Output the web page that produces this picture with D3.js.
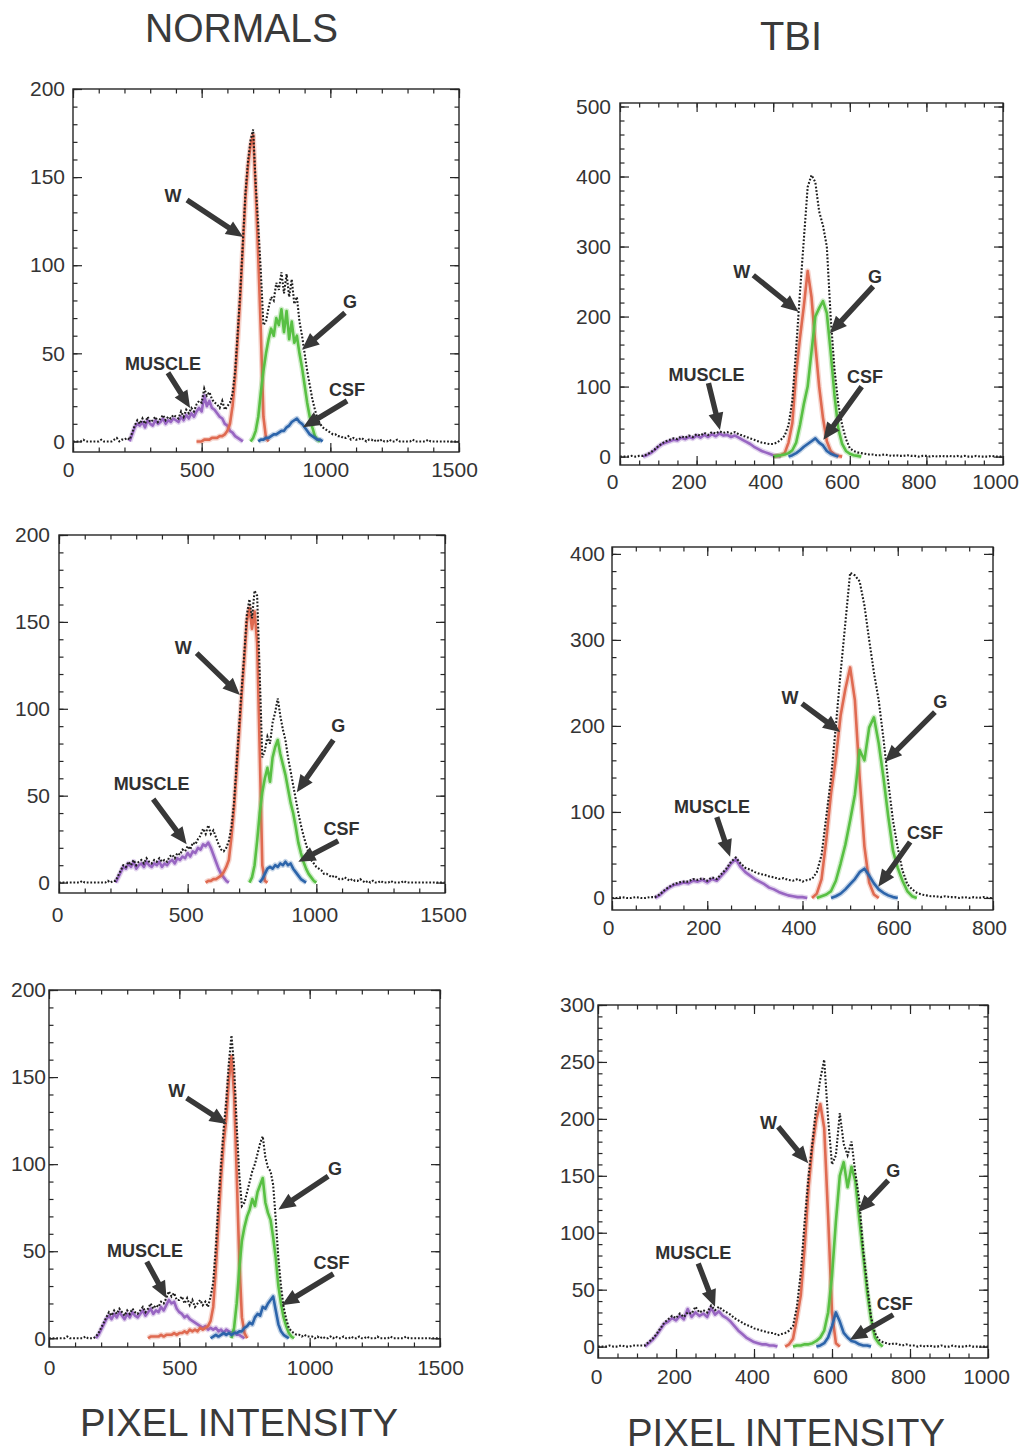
<!DOCTYPE html>
<html>
<head>
<meta charset="utf-8">
<script src="https://cdn.jsdelivr.net/npm/d3@7/dist/d3.min.js"></script>
<style>
html,body{margin:0;padding:0;background:#fff;}
svg{display:block;}
</style>
</head>
<body>
<svg id="chart" width="1029" height="1456"></svg>
<script>
// ---------------- text / tick labels ----------------
const columnTitles = ["NORMALS", "TBI"];
const xAxisTitle = "PIXEL INTENSITY";
const normalsXTicks = [0, 500, 1000, 1500];
const normalsYTicks = [0, 50, 100, 150, 200];
const tbi1XTicks = [0, 200, 400, 600, 800, 1000];
const tbi1YTicks = [0, 100, 200, 300, 400, 500];
const tbi2XTicks = [0, 200, 400, 600, 800];
const tbi2YTicks = [0, 100, 200, 300, 400];
const tbi3XTicks = [0, 200, 400, 600, 800, 1000];
const tbi3YTicks = [0, 50, 100, 150, 200, 250, 300];

// ---------------- histogram data (x0 = first pixel intensity, step = bin, v = counts) ----------------
// NORMALS, top
const n1Total = {x0:0, step:10, v:[
 0,0,0,0,1,0,0,0,0,0, 0,1,0,0,0,0,1,2,0,1, 1,2,1,5,9,12,10,13,10,14,
 11,12,14,11,13,15,12,14,13,15, 14,13,17,14,18,16,19,17,21,23, 22,30,26,28,24,22,21,19,23,18,
 20,22,27,40,62,85,113,141,159,171, 177,146,122,96,66,68,76,82,80,90, 86,96,84,95,82,92,78,82,68,60,
 50,40,32,24,18,13,10,8,7,6, 5,4,4,3,3,2,2,3,1,2, 1,1,2,1,0,1,1,0,1,0,
 1,0,0,1,0,0,1,0,0,0, 0,0,1,0,0,0,0,0,1,0, 0,0,0,0,0,0,0,0,0,0,0]};
const n1W = {x0:480, step:10, v:[0,0,0,1,1,1,2,2,2,3,3,4,6,10,20,36,58,82,110,138,156,168,174,142,104,62,14,2,0]};
const n1G = {x0:690, step:10, v:[0,2,6,14,28,40,50,58,64,60,70,66,75,62,74,58,68,56,60,50,42,32,22,14,8,3,1,0]};
const n1Csf = {x0:720, step:10, v:[0,1,1,2,2,3,4,4,5,6,6,8,9,11,12,13,11,10,8,6,4,3,2,1,1,0]};
const n1Muscle = {x0:220, step:10, v:[0,4,8,10,9,11,8,12,10,9,12,10,11,13,10,12,11,13,12,11,14,12,15,13,16,14,17,19,17,26,20,23,19,18,16,14,13,10,9,6,5,3,2,1,0]};

// NORMALS, middle
const n2Total = {x0:0, step:10, v:[
 0,0,0,0,0,0,0,0,0,1, 0,0,0,0,0,0,0,0,0,1, 0,1,1,4,7,10,9,12,10,13,
 10,12,13,11,14,12,11,13,12,14, 12,13,12,15,16,14,17,16,19,18, 21,19,23,22,25,27,31,28,33,28,
 30,26,22,19,18,20,24,32,46,68, 90,112,132,154,163,152,168,165,120,72, 76,84,80,92,98,106,96,88,82,72,
 64,56,48,40,33,27,22,17,13,11, 9,8,7,5,5,4,3,4,3,2, 2,3,2,1,2,1,1,2,1,0,
 1,0,1,0,0,1,0,0,0,1, 0,0,0,0,1,0,0,0,0,0, 0,0,0,0,0,0,0,0,0,0,0]};
const n2W = {x0:570, step:10, v:[0,1,1,2,2,3,4,6,9,13,26,42,64,86,108,128,150,158,146,156,138,76,10,1,0]};
const n2G = {x0:740, step:10, v:[0,3,10,24,40,52,60,66,58,72,78,82,74,68,62,54,46,40,32,23,17,12,8,5,3,1,0]};
const n2Csf = {x0:780, step:10, v:[0,2,5,8,9,8,10,9,11,10,12,10,11,8,6,4,2,1,0]};
const n2Muscle = {x0:220, step:10, v:[0,3,6,9,8,11,9,12,8,10,11,9,12,10,9,11,10,12,9,11,10,12,13,11,14,13,15,14,17,15,18,17,20,19,22,21,23,20,16,12,8,5,3,1,0]};

// NORMALS, bottom
const n3Total = {x0:0, step:10, v:[
 0,0,0,0,0,0,0,1,0,0, 0,0,0,0,1,0,0,0,1,3, 6,9,12,15,13,16,14,17,15,13,
 16,14,17,15,14,16,18,15,17,20, 17,19,18,21,20,23,27,24,26,22, 22,24,20,23,19,22,18,20,22,19,
 21,18,24,32,52,78,100,120,136,158, 174,156,122,94,76,78,84,90,96,100, 106,112,116,104,98,96,88,68,46,30,
 18,11,6,4,3,2,2,1,2,1, 1,1,0,1,0,1,0,0,1,0, 1,0,0,1,0,0,1,0,0,1,
 0,0,1,0,0,0,1,0,0,0, 0,1,0,0,0,0,0,1,0,0, 0,0,0,0,0,0,0,0,0,0,0]};
const n3W = {x0:380, step:10, v:[0,1,1,1,1,2,1,2,2,2,3,2,3,3,4,3,5,4,5,4,6,5,6,7,10,18,40,66,92,112,126,148,162,140,95,45,12,3,0]};
const n3G = {x0:700, step:10, v:[0,6,20,40,56,64,70,74,80,76,84,88,92,78,72,68,58,46,30,20,12,7,3,1,0]};
const n3Csf = {x0:620, step:10, v:[0,1,2,1,2,3,2,3,2,3,3,4,4,6,7,9,8,12,14,13,18,17,20,22,24,16,8,4,2,1,0]};
const n3Muscle = {x0:180, step:10, v:[0,2,5,8,11,13,11,14,12,15,13,11,14,12,15,13,12,14,16,13,15,17,14,16,15,18,16,19,22,20,21,17,15,14,12,13,11,10,9,8,7,6,7,5,6,5,6,4,5,3,5,4,3,4,2,2,1,0]};

// TBI, top
const t1Total = {x0:0, step:10, v:[
 0,0,0,1,0,1,1,3,6,10, 15,19,22,24,26,25,29,27,30,28, 32,30,34,31,35,33,36,34,35,33,
 35,32,30,28,26,24,22,20,19,18, 18,20,24,30,45,80,155,235,310,385, 402,392,350,330,300,200,125,75,45,25,
 12,8,6,5,4,3,3,2,2,3, 2,1,2,1,1,2,1,1,0,1, 1,0,1,0,1,0,1,0,1,0, 1,0,0,1,0,0,0,1,0,0,0]};
const t1W = {x0:400, step:10, v:[0,1,2,5,20,48,120,170,215,265,228,160,100,55,22,8,3,1,0]};
const t1G = {x0:400, step:10, v:[0,1,2,3,5,9,20,45,75,100,150,200,212,222,205,150,88,40,18,8,4,2,1,0]};
const t1Csf = {x0:440, step:10, v:[0,2,5,9,14,18,22,26,20,16,8,4,2,0]};
const t1Muscle = {x0:60, step:10, v:[0,2,5,9,14,18,20,22,24,23,27,25,28,26,30,27,31,28,32,29,33,30,31,28,30,27,24,21,18,14,11,8,6,4,2,1,0]};

// TBI, middle
const t2Total = {x0:0, step:10, v:[
 0,0,1,0,0,1,0,0,1,1, 4,9,13,16,18,19,19,22,21,23, 20,24,22,28,34,42,47,40,35,33,
 30,28,27,25,24,22,23,21,20,22, 19,21,22,30,50,95,140,200,262,320, 378,375,368,340,300,262,230,185,135,90,
 58,32,16,10,6,4,3,2,2,1, 2,1,1,0,1,0,1,0,1,0,0]};
const t2W = {x0:420, step:10, v:[0,5,22,68,122,162,212,243,268,230,140,60,18,4,0]};
const t2G = {x0:430, step:10, v:[0,2,4,8,20,40,62,90,120,172,160,198,210,180,140,95,55,35,20,8,2,0]};
const t2Csf = {x0:460, step:10, v:[0,2,5,10,16,22,30,34,26,17,10,6,3,1,0]};
const t2Muscle = {x0:90, step:10, v:[0,3,8,12,15,16,18,17,20,19,21,18,22,20,26,32,40,45,36,30,26,22,19,16,12,10,7,5,3,2,1,1,0]};

// TBI, bottom
const t3Total = {x0:0, step:10, v:[
 0,0,0,1,0,0,1,0,0,1, 1,1,1,4,7,11,16,21,24,27, 25,29,26,30,29,35,30,32,30,36,
 32,35,32,30,28,25,23,21,19,18, 16,15,14,13,12,12,10,11,12,14, 18,35,65,110,150,180,212,235,252,200,
 160,168,205,178,168,180,152,128,85,55, 26,12,6,4,3,2,3,2,1,2, 1,1,0,1,0,1,0,0,1,0, 0,1,0,0,0,1,0,0,0,0,0]};
const t3W = {x0:480, step:10, v:[0,2,7,25,45,88,140,176,200,213,192,115,30,3,0]};
const t3G = {x0:500, step:10, v:[0,1,1,2,2,3,5,8,14,30,62,110,150,162,140,158,145,112,80,48,24,8,3,0]};
const t3Csf = {x0:560, step:10, v:[0,1,3,8,18,30,22,12,8,5,4,2,1,1,0]};
const t3Muscle = {x0:120, step:10, v:[0,3,6,10,15,20,22,25,23,27,24,33,26,30,27,29,26,34,28,31,27,25,22,18,14,11,8,6,4,3,2,2,1,1,0]};

// ---------------- annotation anchors (data units: label centre, arrow tail, arrow tip) ----------------
const n1Notes = [
  {t:"W", at:[389,139], from:[443,137], to:[661,116]},
  {t:"G", at:[1076,79], from:[1057,73], to:[890,52]},
  {t:"CSF", at:[1065,29], from:[1065,23], to:[894,8]},
  {t:"MUSCLE", at:[350,44], from:[369,39], to:[455,19]}];
const n2Notes = [
  {t:"W", at:[483,135], from:[535,132], to:[703,108]},
  {t:"G", at:[1085,90], from:[1066,82], to:[924,52]},
  {t:"CSF", at:[1098,31], from:[1085,24], to:[930,12]},
  {t:"MUSCLE", at:[360,57], from:[366,48], to:[496,22]}];
const n3Notes = [
  {t:"W", at:[490,142], from:[528,138], to:[682,123]},
  {t:"G", at:[1097,97], from:[1071,93], to:[880,74]},
  {t:"CSF", at:[1084,43], from:[1091,37], to:[893,19]},
  {t:"MUSCLE", at:[368,50], from:[375,44], to:[451,23]}];
const t1Notes = [
  {t:"W", at:[318,264], from:[348,259], to:[466,207]},
  {t:"G", at:[666,257], from:[661,243], to:[548,176]},
  {t:"CSF", at:[640,114], from:[631,100], to:[531,24]},
  {t:"MUSCLE", at:[226,117], from:[231,105], to:[261,38]}];
const t2Notes = [
  {t:"W", at:[374,232], from:[399,226], to:[479,193]},
  {t:"G", at:[689,228], from:[678,216], to:[573,158]},
  {t:"CSF", at:[657,75], from:[626,65], to:[559,13]},
  {t:"MUSCLE", at:[210,106], from:[220,94], to:[248,48]}];
const t3Notes = [
  {t:"W", at:[437,196], from:[462,193], to:[539,161]},
  {t:"G", at:[757,154], from:[744,146], to:[667,118]},
  {t:"CSF", at:[761,37], from:[757,28], to:[646,6]},
  {t:"MUSCLE", at:[244,82], from:[257,73], to:[300,35]}];

// ---------------- layout & style ----------------
const COLORS = {muscle:"#9866c2", w:"#df6a51", g:"#58c043", csf:"#2c64aa", total:"#1e1e1e"};
const INK = "#343434";
const FONT = "'Liberation Sans', Arial, Helvetica, sans-serif";

const panels = [
  {frame:[73,89,459,452], xd:[0,1500], yd:[-6,200], xt:normalsXTicks, yt:normalsYTicks, xm:100, ym:10, lx:-5, ly:10, gy:8,
   s:{total:n1Total,w:n1W,g:n1G,csf:n1Csf,muscle:n1Muscle}, notes:n1Notes},
  {frame:[59,535,445,893], xd:[0,1500], yd:[-6,200], xt:normalsXTicks, yt:normalsYTicks, xm:100, ym:10, lx:-2, ly:14, gy:9,
   s:{total:n2Total,w:n2W,g:n2G,csf:n2Csf,muscle:n2Muscle}, notes:n2Notes},
  {frame:[49,990,440,1347], xd:[0,1500], yd:[-5,200], xt:normalsXTicks, yt:normalsYTicks, xm:100, ym:10, lx:0, ly:13, gy:3,
   s:{total:n3Total,w:n3W,g:n3G,csf:n3Csf,muscle:n3Muscle}, notes:n3Notes},
  {frame:[620,103,1003,465], xd:[0,1000], yd:[-12,505], xt:tbi1XTicks, yt:tbi1YTicks, xm:50, ym:20, lx:-8, ly:9, gy:9,
   s:{total:t1Total,w:t1W,g:t1G,csf:t1Csf,muscle:t1Muscle}, notes:t1Notes},
  {frame:[612,547,993,910], xd:[0,800], yd:[-14,408], xt:tbi2XTicks, yt:tbi2YTicks, xm:50, ym:20, lx:-4, ly:10, gy:7,
   s:{total:t2Total,w:t2W,g:t2G,csf:t2Csf,muscle:t2Muscle}, notes:t2Notes},
  {frame:[598,1005,988,1358], xd:[0,1000], yd:[-10,300], xt:tbi3XTicks, yt:tbi3YTicks, xm:50, ym:10, lx:-2, ly:11, gy:3,
   s:{total:t3Total,w:t3W,g:t3G,csf:t3Csf,muscle:t3Muscle}, notes:t3Notes}
];

const svg = d3.select("#chart");
svg.append("rect").attr("width",1029).attr("height",1456).attr("fill","#fff");

function pts(s){ return s.v.map((v,i)=>[s.x0 + i*s.step, v]); }

function arrow(g, x1,y1,x2,y2){
  const dx=x2-x1, dy=y2-y1, len=Math.hypot(dx,dy);
  const ux=dx/len, uy=dy/len, nx=-uy, ny=ux;
  const hl=17, hw=7.5, sw=2.7;
  const bx=x2-ux*hl, by=y2-uy*hl;
  const p=[[x1+nx*sw,y1+ny*sw],[bx+nx*sw,by+ny*sw],[bx+nx*hw,by+ny*hw],[x2,y2],
           [bx-nx*hw,by-ny*hw],[bx-nx*sw,by-ny*sw],[x1-nx*sw,y1-ny*sw]];
  g.append("polygon").attr("points", p.map(q=>q.join(",")).join(" ")).attr("fill","#383838");
}

function minors(step, max){ return d3.range(0, max + 1e-9, step); }

panels.forEach(p=>{
  const [L,T,R,B] = p.frame;
  const x = d3.scaleLinear().domain(p.xd).range([L,R]);
  const y = d3.scaleLinear().domain(p.yd).range([B,T]);
  const g = svg.append("g");
  const line = d3.line().x(d=>x(d[0])).y(d=>y(d[1]));

  // coloured tissue histograms (fuzzy band + core line)
  ["muscle","w","g","csf"].forEach(k=>{
    const d = pts(p.s[k]);
    g.append("path").attr("d", line(d)).attr("fill","none")
      .attr("stroke", COLORS[k]).attr("stroke-width",5.5).attr("stroke-opacity",0.28).attr("stroke-linejoin","round");
    g.append("path").attr("d", line(d)).attr("fill","none")
      .attr("stroke", COLORS[k]).attr("stroke-width",2.6).attr("stroke-linejoin","round");
  });
  // total histogram, dotted black
  g.append("path").attr("d", line(pts(p.s.total))).attr("fill","none")
    .attr("stroke", COLORS.total).attr("stroke-width",2.1).attr("stroke-dasharray","1.8 1.8");

  // frame
  g.append("rect").attr("x",L).attr("y",T).attr("width",R-L).attr("height",B-T)
    .attr("fill","none").attr("stroke","#262626").attr("stroke-width",1.4);

  const styleAxis = a => { a.select(".domain").remove(); a.selectAll("line").attr("stroke","#262626").attr("stroke-width",1.2); };
  const ymax = p.yd[1], xmax = p.xd[1];
  const al = g.append("g").attr("transform",`translate(${L},0)`)
    .call(d3.axisLeft(y).tickValues(p.yt).tickSize(-9).tickPadding(p.gy).tickFormat(d3.format("d")));
  styleAxis(al);
  al.selectAll("text").attr("font-family",FONT).attr("font-size",21).attr("fill",INK);
  styleAxis(g.append("g").attr("transform",`translate(${L},0)`)
    .call(d3.axisLeft(y).tickValues(minors(p.ym,ymax)).tickSize(-4.5).tickFormat("")));
  styleAxis(g.append("g").attr("transform",`translate(${R},0)`)
    .call(d3.axisRight(y).tickValues(p.yt).tickSize(-9).tickFormat("")));
  styleAxis(g.append("g").attr("transform",`translate(${R},0)`)
    .call(d3.axisRight(y).tickValues(minors(p.ym,ymax)).tickSize(-4.5).tickFormat("")));
  const ab = g.append("g").attr("transform",`translate(0,${B})`)
    .call(d3.axisBottom(x).tickValues(p.xt).tickSize(-9).tickPadding(p.ly).tickFormat(d3.format("d")));
  styleAxis(ab);
  ab.selectAll("text").attr("font-family",FONT).attr("font-size",21).attr("fill",INK).attr("dx",p.lx);
  styleAxis(g.append("g").attr("transform",`translate(0,${B})`)
    .call(d3.axisBottom(x).tickValues(minors(p.xm,xmax)).tickSize(-4.5).tickFormat("")));
  styleAxis(g.append("g").attr("transform",`translate(0,${T})`)
    .call(d3.axisTop(x).tickValues(p.xt).tickSize(-9).tickFormat("")));
  styleAxis(g.append("g").attr("transform",`translate(0,${T})`)
    .call(d3.axisTop(x).tickValues(minors(p.xm,xmax)).tickSize(-4.5).tickFormat("")));

  p.notes.forEach(n=>{
    arrow(g, x(n.from[0]), y(n.from[1]), x(n.to[0]), y(n.to[1]));
    g.append("text").attr("x", x(n.at[0])).attr("y", y(n.at[1]))
      .attr("text-anchor","middle").attr("dominant-baseline","central")
      .attr("font-family",FONT).attr("font-weight","bold").attr("font-size",18)
      .attr("fill","#303030").text(n.t);
  });
});

const titleSpecs = [
  {t:columnTitles[0], x:241.5, y:42, fs:41, w:193},
  {t:columnTitles[1], x:791, y:50, fs:41, w:62},
  {t:xAxisTitle, x:239, y:1436, fs:38, w:318},
  {t:xAxisTitle, x:786, y:1446, fs:38, w:318}
];
titleSpecs.forEach(s=>{
  svg.append("text").attr("x",s.x).attr("y",s.y).attr("text-anchor","middle")
    .attr("font-family",FONT).attr("font-size",s.fs).attr("fill","#3a3a3a")
    .attr("textLength",s.w).attr("lengthAdjust","spacingAndGlyphs").text(s.t);
});
</script>
</body>
</html>
